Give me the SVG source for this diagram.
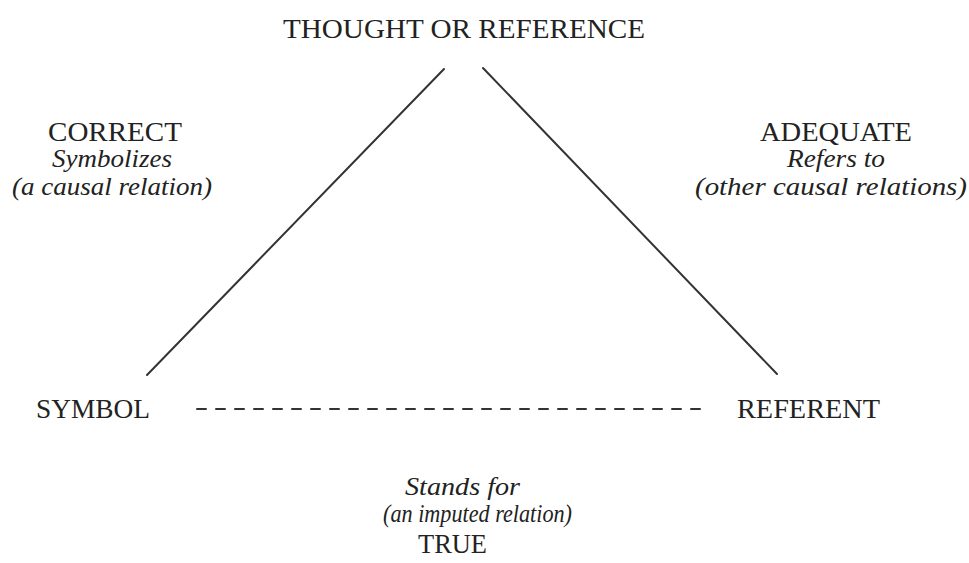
<svg xmlns="http://www.w3.org/2000/svg" width="969" height="563" viewBox="0 0 969 563">
<style>
.t{font-family:"Liberation Serif","Times New Roman",serif;font-size:27px;fill:#222}
.i{font-family:"Liberation Serif","Times New Roman",serif;font-style:italic;font-size:25px;fill:#222}
.e{stroke:#333;stroke-width:2;fill:none;stroke-linecap:round}
</style>
<rect width="969" height="563" fill="#fff"/>
<g id="connectors">
<line class="e" x1="444" y1="69" x2="147" y2="375"/>
<line class="e" x1="483" y1="68" x2="777" y2="374"/>
<line class="e" x1="197" y1="409" x2="710" y2="409" stroke-dasharray="9 10" stroke-linecap="butt" stroke-width="3"/>
</g>
<g id="thought"><text class="t" x="283" y="38" textLength="362" lengthAdjust="spacingAndGlyphs">THOUGHT OR REFERENCE</text></g>
<g id="correct">
<text class="t" x="48" y="141" textLength="134" lengthAdjust="spacingAndGlyphs">CORRECT</text>
<text class="i" x="52" y="167" textLength="120" lengthAdjust="spacingAndGlyphs">Symbolizes</text>
<text class="i" x="12" y="195" textLength="200" lengthAdjust="spacingAndGlyphs">(a causal relation)</text>
</g>
<g id="adequate">
<text class="t" x="760" y="141" textLength="152" lengthAdjust="spacingAndGlyphs">ADEQUATE</text>
<text class="i" x="787" y="167" textLength="98" lengthAdjust="spacingAndGlyphs">Refers to</text>
<text class="i" x="695" y="195" textLength="272" lengthAdjust="spacingAndGlyphs">(other causal relations)</text>
</g>
<g id="symbol"><text class="t" x="36" y="418" textLength="114" lengthAdjust="spacingAndGlyphs">SYMBOL</text></g>
<g id="referent"><text class="t" x="737" y="418" textLength="143" lengthAdjust="spacingAndGlyphs">REFERENT</text></g>
<g id="stands">
<text class="i" x="405" y="495" textLength="115" lengthAdjust="spacingAndGlyphs">Stands for</text>
<text class="i" x="383" y="522" textLength="189" lengthAdjust="spacingAndGlyphs">(an imputed relation)</text>
<text class="t" x="418" y="553" textLength="69" lengthAdjust="spacingAndGlyphs">TRUE</text>
</g>
</svg>
